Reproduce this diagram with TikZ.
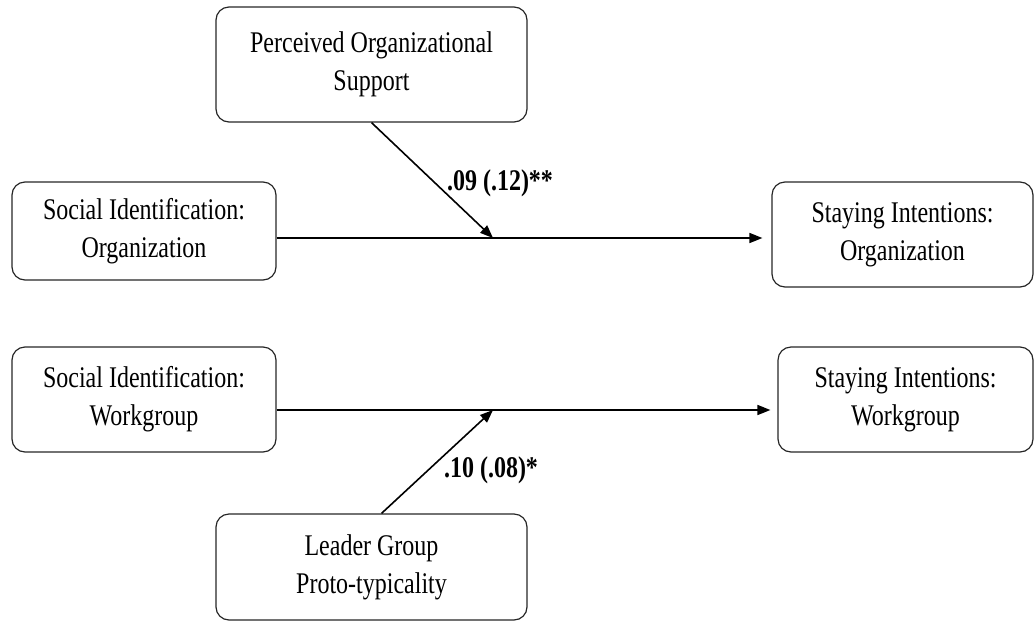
\documentclass[tikz,border=0pt]{standalone}
\usepackage{fontspec}
\setmainfont{Liberation Serif}
\usetikzlibrary{arrows.meta}
% condensed text lines
\newcommand{\cl}[1]{\scalebox{0.8}[1]{#1}}
\begin{document}
\begin{tikzpicture}[x=1pt,y=-1pt,
  varbox/.style={draw=black!85, line width=1.2pt, rounded corners=13pt,
    align=center, inner sep=0pt,
    font=\fontsize{30}{38}\selectfont},
  path/.style={line width=1.6pt, -{Triangle[length=13pt,width=10pt]}},
  coef/.style={font=\fontsize{30}{36}\selectfont\bfseries, inner sep=0pt}]
\useasboundingbox (0,0) rectangle (1036,622);

% variables
\node[varbox, minimum width=311pt, minimum height=115pt] (pos) at (371.5,64.5)
  {\cl{Perceived Organizational}\\\cl{Support}};
\node[varbox, minimum width=264pt, minimum height=98pt] (sio) at (144,231)
  {\cl{Social Identification:}\\\cl{Organization}};
\node[varbox, minimum width=261pt, minimum height=105pt] (sto) at (902.5,234.5)
  {\cl{Staying Intentions:}\\\cl{Organization}};
\node[varbox, minimum width=264pt, minimum height=105pt] (siw) at (144,399.5)
  {\cl{Social Identification:}\\\cl{Workgroup}};
\node[varbox, minimum width=255pt, minimum height=105pt] (stw) at (905.5,399.5)
  {\cl{Staying Intentions:}\\\cl{Workgroup}};
\node[varbox, minimum width=311pt, minimum height=106pt] (lgp) at (371.5,567)
  {\cl{Leader Group}\\\cl{Proto-typicality}};

% points where the moderators meet the main paths
\coordinate (m1) at (493,238);
\coordinate (m2) at (493,410);

% main paths
\draw[path, shorten >=9pt] (sio.east |- m1) -- (sto.west |- m1);
\draw[path, shorten >=7pt] (siw.east |- m2) -- (stw.west |- m2);

% moderation paths
\draw[path] (pos.south) -- (m1);
\draw[path] ([xshift=10pt]lgp.north) -- (m2);

% coefficients
\node[coef] (c1) at (500,183) {\cl{.09 (.12)**}};
\node[coef] (c2) at (491,470) {\cl{.10 (.08)*}};
\end{tikzpicture}
\end{document}
